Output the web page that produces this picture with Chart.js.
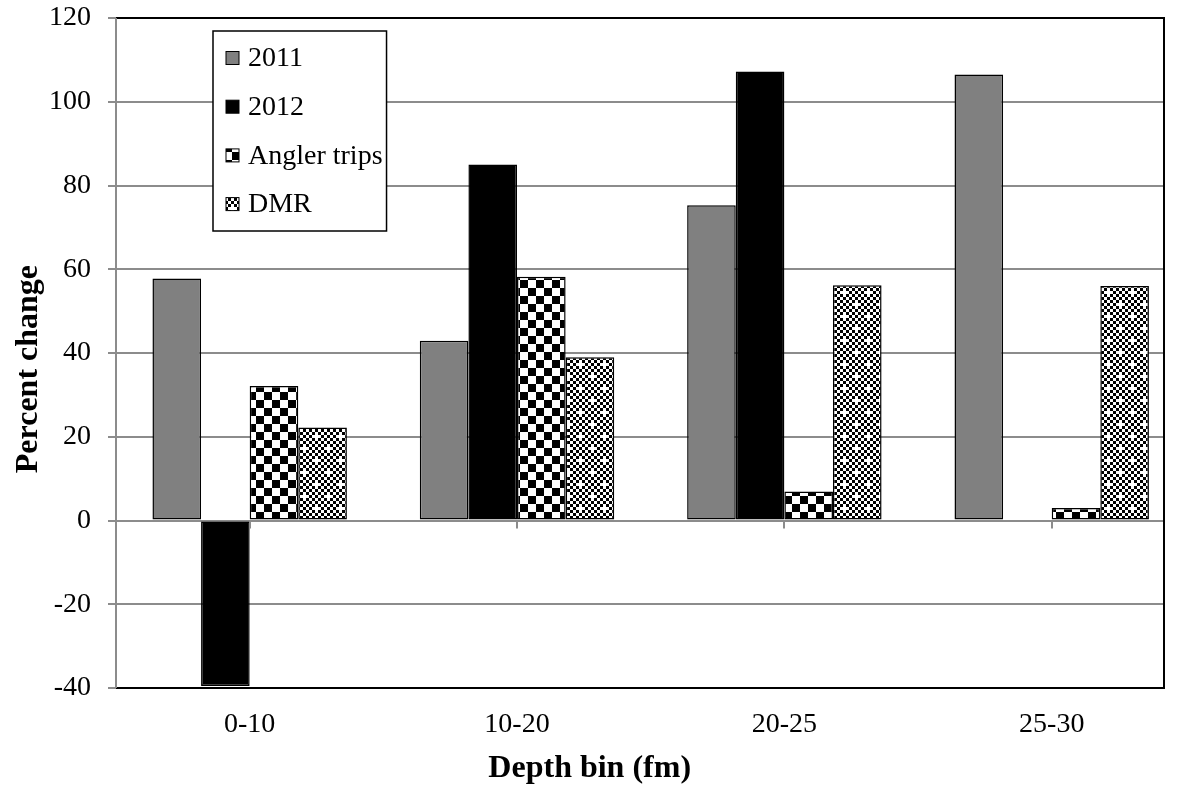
<!DOCTYPE html>
<html><head><meta charset="utf-8">
<script src="https://cdn.jsdelivr.net/npm/chart.js@4.4.1/dist/chart.umd.min.js"></script>
<style>html,body{margin:0;padding:0;background:#fff;} #wrap{width:1180px;height:787px;position:relative}</style>
</head><body><div id="wrap"><canvas id="c" width="1180" height="787"></canvas></div>
<script>
// ---- data ----
const categories = ['0-10', '10-20', '20-25', '25-30'];
const seriesNames = ['2011', '2012', 'Angler trips', 'DMR'];
const values2011 = [57.8, 42.9, 75.3, 106.5];
const values2012 = [-39.5, 85.0, 107.2, null];
const valuesAngler = [32.1, 58.2, 6.9, 3.0];
const valuesDMR = [22.2, 39.0, 56.2, 56.0];
const yTicks = [-40, -20, 0, 20, 40, 60, 80, 100, 120];
const xTitle = 'Depth bin (fm)';
const yTitle = 'Percent change';

const FONT = "'Liberation Serif', 'Times New Roman', serif";

// ---- patterns ----
function checkerPattern(cell) {
  const c = document.createElement('canvas');
  c.width = cell * 2; c.height = cell * 2;
  const g = c.getContext('2d');
  g.fillStyle = '#fff'; g.fillRect(0, 0, c.width, c.height);
  g.fillStyle = '#000';
  g.fillRect(0, 0, cell, cell);
  g.fillRect(cell, cell, cell, cell);
  return g.createPattern(c, 'repeat');
}
function dmrPattern() {
  const cell = 3, n = 8;
  const c = document.createElement('canvas');
  c.width = cell * n; c.height = cell * n;
  const g = c.getContext('2d');
  g.fillStyle = '#fff'; g.fillRect(0, 0, c.width, c.height);
  g.fillStyle = '#000';
  for (let i = 0; i < n; i++) for (let j = 0; j < n; j++) {
    if ((i + j) % 2 === 0) g.fillRect(i * cell, j * cell, cell, cell);
  }
  g.fillStyle = '#fff';
  [[1, 1], [5, 5]].forEach(([ci, cj]) => {
    g.fillRect((ci - 1) * cell, cj * cell, cell * 3, cell);
    g.fillRect(ci * cell, (cj - 1) * cell, cell, cell * 3);
  });
  return g.createPattern(c, 'repeat');
}
const fills = ['#808080', '#000000', checkerPattern(8), dmrPattern()];
const seriesValues = [values2011, values2012, valuesAngler, valuesDMR];

// ---- plugins ----
const framePlugin = {
  id: 'frame',
  afterDatasetsDraw(chart) {
    const { ctx, chartArea: a, scales: { x, y } } = chart;
    ctx.save();
    const y0 = y.getPixelForValue(0);
    ctx.strokeStyle = '#8c8c8c'; ctx.lineWidth = 2;
    categories.forEach((c, i) => {
      const px = Math.round(x.getPixelForValue(i));
      ctx.beginPath(); ctx.moveTo(px, y0); ctx.lineTo(px, y0 + 8); ctx.stroke();
    });
    ctx.strokeStyle = '#000'; ctx.lineWidth = 2;
    ctx.beginPath();
    ctx.moveTo(a.left, a.top); ctx.lineTo(a.right, a.top);
    ctx.lineTo(a.right, a.bottom); ctx.lineTo(a.left, a.bottom);
    ctx.stroke();
    ctx.strokeStyle = '#8c8c8c';
    ctx.beginPath(); ctx.moveTo(a.left, a.top); ctx.lineTo(a.left, a.bottom); ctx.stroke();
    ctx.restore();
  }
};

const titlePlugin = {
  id: 'axisTitles',
  afterDraw(chart) {
    const { ctx, chartArea: a } = chart;
    ctx.save();
    ctx.fillStyle = '#000';
    ctx.font = 'bold 32px ' + FONT;
    ctx.textAlign = 'center';
    ctx.textBaseline = 'middle';
    ctx.fillText(xTitle, a.left + a.width * 0.452, chart.height - 18);
    ctx.translate(29, a.top + a.height * 0.524);
    ctx.rotate(-Math.PI / 2);
    ctx.fillText(yTitle, 0, 0);
    ctx.restore();
  }
};

const legendPlugin = {
  id: 'boxLegend',
  afterDraw(chart) {
    const { ctx, chartArea: a } = chart;
    const ds = chart.data.datasets;
    ctx.save();
    ctx.font = '28px ' + FONT;
    const left = a.left + 97, top = a.top + 13;
    const rowH = 48.7, firstRow = 27;
    let maxW = 0;
    ds.forEach(d => { maxW = Math.max(maxW, ctx.measureText(d.label).width); });
    const w = 35 + maxW + 4, h = 200;
    ctx.fillStyle = '#fff';
    ctx.fillRect(left, top, w, h);
    ctx.strokeStyle = '#000'; ctx.lineWidth = 1.5;
    ctx.strokeRect(left, top, w, h);
    ds.forEach((d, i) => {
      const cy = top + firstRow + i * rowH;
      ctx.fillStyle = d.backgroundColor;
      ctx.fillRect(left + 13, cy - 6.5, 13, 13);
      ctx.strokeStyle = '#000'; ctx.lineWidth = 1;
      ctx.strokeRect(left + 13, cy - 6.5, 13, 13);
      ctx.fillStyle = '#000';
      ctx.textBaseline = 'middle';
      ctx.fillText(d.label, left + 35, cy + 1);
    });
    ctx.restore();
  }
};

new Chart(document.getElementById('c'), {
  type: 'bar',
  data: {
    datasets: seriesNames.map((name, i) => ({
      label: name,
      data: categories.map((c, j) => ({ x: j, y: seriesValues[i][j] })),
      backgroundColor: fills[i],
      borderColor: '#000',
      borderWidth: 1.5,
      borderSkipped: false,
      barPercentage: 1.0,
      categoryPercentage: 4 / 5.5
    }))
  },
  options: {
    responsive: false,
    animation: false,
    devicePixelRatio: 1,
    layout: { padding: { top: 18, right: 16, left: 0, bottom: 0 } },
    plugins: { legend: { display: false }, tooltip: { enabled: false } },
    scales: {
      x: {
        type: 'linear',
        offset: false,
        min: -0.5, max: 3.42,
        afterBuildTicks(s) { s.ticks = categories.map((c, i) => ({ value: i })); },
        grid: { display: false, drawTicks: false },
        border: { display: false },
        ticks: { color: '#000', font: { family: FONT, size: 28 }, padding: 20, maxRotation: 0, autoSkip: false,
                 callback: (v) => categories[v] },
        title: { display: false },
        afterFit(s) { s.height = 99; s.paddingLeft = 0; s.paddingRight = 0; }
      },
      y: {
        min: -40, max: 120,
        afterBuildTicks(s) { s.ticks = yTicks.map(v => ({ value: v })); },
        grid: { color: '#8c8c8c', lineWidth: 2, tickLength: 8, drawTicks: true },
        border: { color: '#8c8c8c', width: 2 },
        ticks: { color: '#000', font: { family: FONT, size: 28 }, padding: 17 },
        title: { display: false },
        afterFit(s) { s.width = 116; s.paddingTop = 0; s.paddingBottom = 0; }
      }
    }
  },
  plugins: [framePlugin, legendPlugin, titlePlugin]
});
</script>
</body></html>
